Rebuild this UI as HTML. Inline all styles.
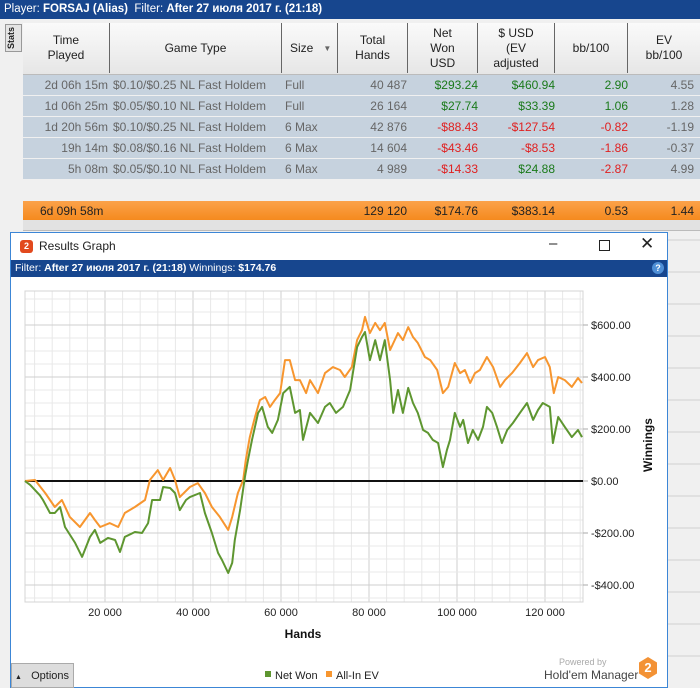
<!DOCTYPE html>
<html><head><meta charset="utf-8">
<style>
*{margin:0;padding:0;box-sizing:border-box}
body{width:700px;height:688px;overflow:hidden;background:#f0f0f0;font-family:"Liberation Sans",sans-serif;font-size:12px;position:relative;color:#222}
.abs{position:absolute}
#topbar{left:0;top:0;width:700px;height:19px;background:#17468e;color:#fff;font-size:11.5px;padding:3px 4px;white-space:nowrap}
#topbar b{font-weight:bold}
#stats{left:5px;top:24px;width:17px;height:28px;background:#e4e4e4;border:1px solid #999;font-size:9px;writing-mode:vertical-rl;transform:rotate(180deg);text-align:center;font-weight:bold}
#hdr{left:23px;top:23px;width:677px;height:52px;background:linear-gradient(#fafafa,#e6e6e6);border-bottom:1px solid #bbb}
.hc{position:absolute;top:0;height:50px;display:flex;align-items:center;justify-content:center;text-align:center;font-size:12px;line-height:15px;border-right:1px solid #666}
.row{position:absolute;left:23px;width:677px;height:20px;background:#c6d2de;color:#666;font-size:12px}
.c{position:absolute;top:3px;white-space:nowrap}
.g{color:#1a7a1a}.r{color:#e02020}
#tot{left:23px;top:201px;width:677px;height:19px;background:linear-gradient(#fba24a,#f58a1e);color:#222}
#win{left:10px;top:232px;width:658px;height:456px;background:#fff;border:1px solid #3c86d6}
</style></head><body>
<div id="topbar" class="abs">Player: <b>FORSAJ (Alias)</b>&nbsp; Filter: <b>After 27 июля 2017 г. (21:18)</b></div>
<div id="stats" class="abs">Stats</div>
<div id="hdr" class="abs">
 <div class="hc" style="left:0;width:87px">Time<br>Played</div>
 <div class="hc" style="left:87px;width:172px">Game Type</div>
 <div class="hc" style="left:259px;width:56px;justify-content:flex-start;padding-left:8px">Size &nbsp;&nbsp;<span style="font-size:8px;color:#666">▼</span></div>
 <div class="hc" style="left:315px;width:70px">Total<br>Hands</div>
 <div class="hc" style="left:385px;width:70px">Net<br>Won<br>USD</div>
 <div class="hc" style="left:455px;width:77px">$ USD<br>(EV<br>adjusted</div>
 <div class="hc" style="left:532px;width:73px">bb/100</div>
 <div class="hc" style="left:605px;width:72px;border:none">EV<br>bb/100</div>
</div>
<div id="rows"></div>
<div id="tot" class="abs row">
 <span class="c" style="left:17px">6d 09h 58m</span>
 <span class="c" style="right:293px">129 120</span>
 <span class="c" style="right:222px">$174.76</span>
 <span class="c" style="right:145px">$383.14</span>
 <span class="c" style="right:72px">0.53</span>
 <span class="c" style="right:6px">1.44</span>
</div>
<div class="abs" style="left:23px;top:220px;width:677px;height:11px;background:#e2e2e2;border-bottom:1px solid #bbb"></div>
<svg class="abs" style="left:668px;top:232px" width="32" height="456">
 <g stroke="#cfcfcf"><line x1="0" y1="8" x2="32" y2="8"/><line x1="0" y1="40" x2="32" y2="40"/><line x1="0" y1="72" x2="32" y2="72"/><line x1="0" y1="104" x2="32" y2="104"/><line x1="0" y1="136" x2="32" y2="136"/><line x1="0" y1="168" x2="32" y2="168"/><line x1="0" y1="200" x2="32" y2="200"/><line x1="0" y1="232" x2="32" y2="232"/><line x1="0" y1="264" x2="32" y2="264"/><line x1="0" y1="296" x2="32" y2="296"/><line x1="0" y1="328" x2="32" y2="328"/><line x1="0" y1="360" x2="32" y2="360"/><line x1="0" y1="392" x2="32" y2="392"/><line x1="0" y1="424" x2="32" y2="424"/></g>
</svg>
<div id="win" class="abs">
 <div class="abs" style="left:9px;top:7px;width:13px;height:13px;background:#e2491d;border-radius:3px;color:#fff;font-size:9px;font-weight:bold;text-align:center;line-height:13px">2</div>
 <div class="abs" style="left:28px;top:6px;font-size:12px">Results Graph</div>
 <div class="abs" style="left:538px;top:2px;font-size:15px">–</div>
 <div class="abs" style="left:588px;top:7px;width:11px;height:11px;border:1px solid #222"></div>
 <div class="abs" style="left:629px;top:1px;font-size:17px">✕</div>
 <div class="abs" style="left:0;top:27px;width:656px;height:17px;background:#17468e;color:#fff;font-size:10.5px;padding:2px 4px;white-space:nowrap">Filter: <b>After 27 июля 2017 г. (21:18)</b> Winnings: <b>$174.76</b>
  <span style="position:absolute;right:3px;top:2px;width:12px;height:12px;border-radius:6px;background:#4f8fd6;font-size:9px;text-align:center;line-height:12px;font-weight:bold">?</span></div>
 <div class="abs" style="left:0;top:430px;width:63px;height:25px;background:#ddd;border:1px solid #aaa;font-size:11px;padding:6px 3px"><span style="font-size:7px">▲</span>&nbsp;&nbsp; Options</div>
 <div class="abs" style="left:548px;top:424px;font-size:9px;color:#aaa;white-space:nowrap">Powered by</div>
 <div class="abs" style="left:533px;top:435px;font-size:12px;color:#444;white-space:nowrap">Hold'em Manager</div>
 <div class="abs" style="left:628px;top:424px;width:18px;height:22px;background:#f39235;clip-path:polygon(50% 0,100% 25%,100% 75%,50% 100%,0 75%,0 25%);color:#fff;font-weight:bold;font-size:13px;text-align:center;line-height:22px">2</div>
</div>
<svg id="chart" class="abs" style="left:0;top:0" width="700" height="688"></svg>
<script>
const rowTime=["2d 06h 15m","1d 06h 25m","1d 20h 56m","19h 14m","5h 08m"];
const rowGame=["$0.10/$0.25 NL Fast Holdem","$0.05/$0.10 NL Fast Holdem","$0.10/$0.25 NL Fast Holdem","$0.08/$0.16 NL Fast Holdem","$0.05/$0.10 NL Fast Holdem"];
const rowSize=["Full","Full","6 Max","6 Max","6 Max"];
const rowHands=["40 487","26 164","42 876","14 604","4 989"];
const rowNet=["$293.24","$27.74","-$88.43","-$43.46","-$14.33"];
const rowEv=["$460.94","$33.39","-$127.54","-$8.53","$24.88"];
const rowBb=["2.90","1.06","-0.82","-1.86","-2.87"];
const rowEvBb=["4.55","1.28","-1.19","-0.37","4.99"];
const cls=v=>v.startsWith("-")?"r":"g";
const rc=document.getElementById('rows');
rowTime.forEach((t,i)=>{
 const d=document.createElement('div');d.className='row';d.style.top=(75+i*21)+'px';
 
 
 d.innerHTML=`<span class="c" style="right:592px">${t}</span><span class="c" style="left:90px">${rowGame[i]}</span><span class="c" style="left:262px">${rowSize[i]}</span><span class="c" style="right:293px">${rowHands[i]}</span><span class="c ${cls(rowNet[i])}" style="right:222px">${rowNet[i]}</span><span class="c ${cls(rowEv[i])}" style="right:145px">${rowEv[i]}</span><span class="c ${cls(rowBb[i])}" style="right:72px">${rowBb[i]}</span><span class="c" style="right:6px">${rowEvBb[i]}</span>`;
 rc.appendChild(d);
});

// chart data (hands in thousands, winnings in $)
const netHands=[1.8,3.0,5.2,5.9,7.5,8.6,9.8,10.9,13.2,14.8,16.6,17.7,18.9,20.7,22.3,23.4,24.5,26.8,28.4,29.8,30.7,32.5,33.2,34.8,35.9,37.0,38.4,39.3,41.6,42.7,44.3,45.7,46.6,48.0,48.9,49.5,50.7,51.8,52.5,53.4,54.8,55.7,57.0,58.0,59.3,60.5,62.0,63.2,64.3,65.0,66.6,68.4,70.0,71.1,72.5,74.1,75.7,77.3,78.4,79.1,80.2,81.4,82.5,83.6,84.8,85.5,86.6,87.7,88.9,90.0,91.1,92.3,93.4,94.5,95.7,96.8,97.7,98.4,99.5,100.7,101.4,102.5,103.6,104.8,105.9,106.8,108.0,109.1,110.2,111.4,112.7,114.3,115.9,117.3,118.4,119.5,121.1,121.8,123.0,124.5,126.1,127.5,128.4];
const netWon=[0,-15,-55,-73,-123,-123,-100,-177,-238,-292,-215,-188,-238,-219,-227,-273,-215,-196,-200,-162,-73,-73,-23,-27,-46,-112,-73,-62,-46,-123,-200,-277,-304,-354,-315,-227,-112,15,81,158,262,285,208,185,235,338,362,262,273,158,262,223,285,300,262,285,350,515,554,573,465,542,465,542,388,262,350,262,358,300,262,196,185,158,146,54,119,158,262,208,235,146,196,158,208,285,262,208,146,196,223,262,300,235,273,300,285,146,246,208,169,196,169];
const evHands=[1.8,4.1,6.4,8.6,10.2,12.0,14.3,16.6,17.7,18.9,21.1,23.0,24.5,26.8,29.1,30.2,32.0,33.2,34.8,35.9,37.0,39.3,41.1,42.7,44.3,46.1,48.0,48.9,50.2,51.4,52.0,52.9,54.1,55.2,56.4,57.5,58.6,59.8,60.9,62.0,63.2,64.3,65.7,66.6,68.4,70.0,71.8,73.4,74.5,76.1,77.3,78.4,79.1,80.2,81.4,82.5,83.6,84.8,86.6,87.7,88.9,90.0,91.1,92.7,93.9,95.5,96.8,98.0,99.5,100.7,101.8,103.0,104.1,105.2,106.8,108.2,109.8,110.9,112.5,114.3,115.9,117.3,118.4,120.0,121.1,122.0,123.0,124.5,126.1,127.5,128.4];
const allInEv=[0,4,-46,-100,-73,-138,-177,-123,-150,-177,-162,-177,-123,-100,-73,4,42,4,50,4,-62,-23,-8,-46,-100,-138,-188,-138,-46,4,81,169,246,311,323,285,311,338,465,465,388,388,338,388,338,415,438,427,400,438,542,580,631,569,608,580,608,504,569,542,592,554,531,477,465,427,338,362,454,415,427,377,415,427,477,438,362,388,415,454,492,438,465,477,438,338,400,388,362,396,377];
const xTicks=[20,40,60,80,100,120];
const xTickLabels=["20 000","40 000","60 000","80 000","100 000","120 000"];
const yTicks=[600,400,200,0,-200,-400];
const yTickLabels=["$600.00","$400.00","$200.00","$0.00","-$200.00","-$400.00"];

const X=h=>17+h*4.4;
const Y=v=>481-v*0.26;
const L=25,R=583,T=291,B=602;
const ns="http://www.w3.org/2000/svg";
const svg=document.getElementById('chart');
function mk(tag,attrs,parent){const e=document.createElementNS(ns,tag);for(const k in attrs)e.setAttribute(k,attrs[k]);(parent||svg).appendChild(e);return e;}
const grid=mk('g',{});


for(let h=4;h<=128;h+=4){const x=X(h);if(x<L)continue;mk('line',{x1:x,x2:x,y1:T,y2:B,stroke:h%20===0?'#cfcfcf':'#e8e8e8','stroke-width':1},grid);}
for(let v=-450;v<=700;v+=50){const y=Y(v);if(y<T||y>B)continue;mk('line',{x1:L,x2:R,y1:y,y2:y,stroke:v%200===0?'#cfcfcf':'#e8e8e8','stroke-width':1},grid);}
mk('rect',{x:L,y:T,width:R-L,height:B-T,fill:'none',stroke:'#d4d4d4'},grid);
const zl=mk('line',{x1:L,x2:R,y1:Y(0),y2:Y(0),stroke:'#111','stroke-width':2});


xTicks.forEach((t,i)=>{const e=mk('text',{x:X(t),y:616,'text-anchor':'middle','font-size':11,fill:'#222'});e.textContent=xTickLabels[i];
 
 });
yTicks.forEach((t,i)=>{mk('line',{x1:R,x2:R+5,y1:Y(t),y2:Y(t),stroke:'#aaa'});const e=mk('text',{x:591,y:Y(t)+4,'font-size':11,fill:'#222'});e.textContent=yTickLabels[i];
 
 });
const xt=mk('text',{x:303,y:638,'text-anchor':'middle','font-size':12,'font-weight':'bold',fill:'#111'});xt.textContent='Hands';


const yt=mk('text',{x:652,y:445,'text-anchor':'middle','font-size':12,'font-weight':'bold',fill:'#111',transform:'rotate(-90 652 445)'});yt.textContent='Winnings';


function line(hs,vs,color,name){const p=hs.map((h,i)=>X(h).toFixed(1)+','+Y(vs[i]).toFixed(1)).join(' ');
 const e=mk('polyline',{points:p,fill:'none',stroke:color,'stroke-width':2,'stroke-linejoin':'round'});
 
 }
line(evHands,allInEv,'#f7962f','all-in-ev-line');
line(netHands,netWon,'#5e9630','net-won-line');
const lg=mk('g',{});


mk('rect',{x:265,y:671,width:6,height:6,fill:'#5e9630'},lg);
let t1=mk('text',{x:275,y:679,'font-size':11,fill:'#222'},lg);t1.textContent='Net Won';


mk('rect',{x:326,y:671,width:6,height:6,fill:'#f7962f'},lg);
let t2=mk('text',{x:336,y:679,'font-size':11,fill:'#222'},lg);t2.textContent='All-In EV';


</script>
</body></html>
